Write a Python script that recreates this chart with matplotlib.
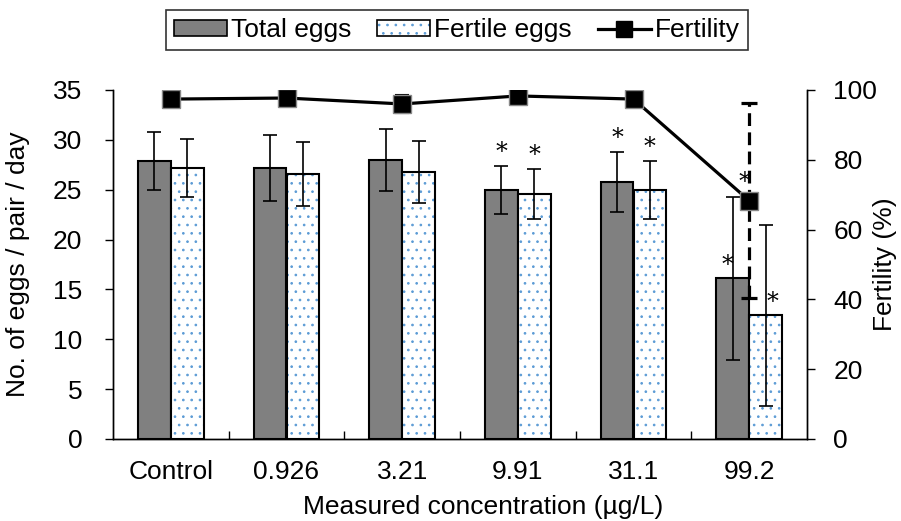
import numpy as np
import matplotlib.pyplot as plt
from matplotlib.patches import Patch
from matplotlib.lines import Line2D

plt.rcParams['font.family'] = ['Liberation Sans', 'DejaVu Sans']
plt.rcParams['hatch.linewidth'] = 0.7

categories = ['Control', '0.926', '3.21', '9.91', '31.1', '99.2']
total_eggs = [27.9, 27.2, 28.0, 25.0, 25.8, 16.1]
total_sd = [2.9, 3.3, 3.1, 2.4, 3.0, 8.2]
fertile_eggs = [27.2, 26.6, 26.8, 24.6, 25.0, 12.4]
fertile_sd = [2.9, 3.2, 3.1, 2.5, 2.9, 9.1]
fertility = [97.4, 97.7, 96.0, 98.3, 97.4, 68.3]
fertility_sd = [1.0, 1.0, 2.5, 1.0, 1.0, 28.0]
# 0 = none, 1 = star above error bar, 2 = star above bar top
sig_total = [0, 0, 0, 1, 1, 2]
sig_fertile = [0, 0, 0, 1, 1, 2]
sig_fertility = [0, 0, 0, 0, 0, 1]

FS = 19
DOT = '#5B9BD5'
x = np.arange(len(categories))
w = 0.285

fig = plt.figure(figsize=(9.01, 5.21), dpi=100)
ax = fig.add_axes([113 / 901, 1 - 439 / 521, 694 / 901, 349 / 521])
ax2 = ax.twinx()

ax.bar(x - w / 2, total_eggs, w, color='#808080', edgecolor='black', linewidth=1.5, zorder=2)
ax.bar(x + w / 2, fertile_eggs, w, color='white', edgecolor=DOT, hatch='..', linewidth=0, zorder=2)
ax.bar(x + w / 2, fertile_eggs, w, fill=False, edgecolor='black', linewidth=1.5, zorder=3)
ax.errorbar(x - w / 2, total_eggs, yerr=total_sd, fmt='none', ecolor='black', elinewidth=1.2, capsize=5, capthick=1.2, zorder=4)
ax.errorbar(x + w / 2, fertile_eggs, yerr=fertile_sd, fmt='none', ecolor='black', elinewidth=1.2, capsize=5, capthick=1.2, zorder=4)

def star(a, xs, means, sds, flags, dx2=0):
    for xi, m, s, f in zip(xs, means, sds, flags):
        if f == 0:
            continue
        yv = m + s if f == 1 else m
        dx = 0 if f == 1 else dx2
        a.annotate('*', (xi, yv), xytext=(dx, 1), textcoords='offset points',
                   ha='center', va='bottom', fontsize=17, family='DejaVu Serif')

star(ax, x - w / 2, total_eggs, total_sd, sig_total, dx2=-4)
star(ax, x + w / 2, fertile_eggs, fertile_sd, sig_fertile, dx2=5)

ax2.plot(x, fertility, color='black', linewidth=2.3, zorder=5)
ax2.errorbar(x[:5], fertility[:5], yerr=fertility_sd[:5], fmt='none', ecolor='black', elinewidth=1.5, capsize=5, capthick=1.5, zorder=5)
eb = ax2.errorbar(x[5:], fertility[5:], yerr=fertility_sd[5:], fmt='none', ecolor='black', elinewidth=2.3, capsize=6, capthick=2.3, zorder=5)
eb[2][0].set_linestyle((0, (4, 2)))
ax2.plot(x, fertility, linestyle='none', marker='s', markersize=13, markerfacecolor='black', markeredgecolor='#888888', markeredgewidth=1, zorder=6)
for xi, m, f in zip(x, fertility, sig_fertility):
    if f:
        ax2.annotate('*', (xi, m), xytext=(-3, 5), textcoords='offset points',
                     ha='center', va='bottom', fontsize=17, family='DejaVu Serif')

ax.set_xlim(-0.5, len(categories) - 0.5)
ax.set_ylim(0, 35)
ax.set_yticks(np.arange(0, 36, 5))
ax2.set_ylim(0, 100)
ax2.set_yticks(np.arange(0, 101, 20))

ax.set_xticks(x)
ax.set_xticklabels(categories)
ax.tick_params(axis='x', length=0, labelsize=FS, pad=15)
ax.set_xticks(np.arange(0.5, len(categories) - 0.5, 1), minor=True)
ax.tick_params(axis='x', which='minor', direction='in', length=6, width=1)
ax.tick_params(axis='y', labelsize=FS, length=6, width=1, pad=16)
ax2.tick_params(axis='y', labelsize=FS, length=6, width=1, pad=13)

for a in (ax, ax2):
    a.spines['top'].set_visible(False)
    for s in ('left', 'right', 'bottom'):
        a.spines[s].set_linewidth(1)

ax.set_xlabel('Measured concentration (µg/L)', fontsize=FS)
ax.xaxis.set_label_coords(0.533, -0.16)
ax.xaxis.label.set_va('top')
ax.set_ylabel('No. of eggs / pair / day', fontsize=FS)
ax.yaxis.set_label_coords(-0.119, 0.5)
ax2.set_ylabel('Fertility (%)', fontsize=FS)
ax2.yaxis.set_label_coords(1.095, 0.5)

handles = [
    Patch(facecolor='#808080', edgecolor='black', linewidth=1.2),
    (Patch(facecolor='white', edgecolor=DOT, hatch='..', linewidth=0),
     Patch(fill=False, edgecolor='black', linewidth=1.2)),
    Line2D([0], [0], color='black', linewidth=2.3, marker='s', markersize=11, markerfacecolor='black'),
]
leg = fig.legend(handles, ['Total eggs', 'Fertile eggs', 'Fertility'], ncol=3, loc='center',
                 bbox_to_anchor=(0.507, 0.942), fontsize=FS, frameon=True, fancybox=False,
                 edgecolor='black', handlelength=2.0, handleheight=0.55, columnspacing=1.0,
                 handletextpad=0.15, borderpad=0.3)
leg.get_frame().set_linewidth(1.2)

fig.savefig('out.png', dpi=100)
